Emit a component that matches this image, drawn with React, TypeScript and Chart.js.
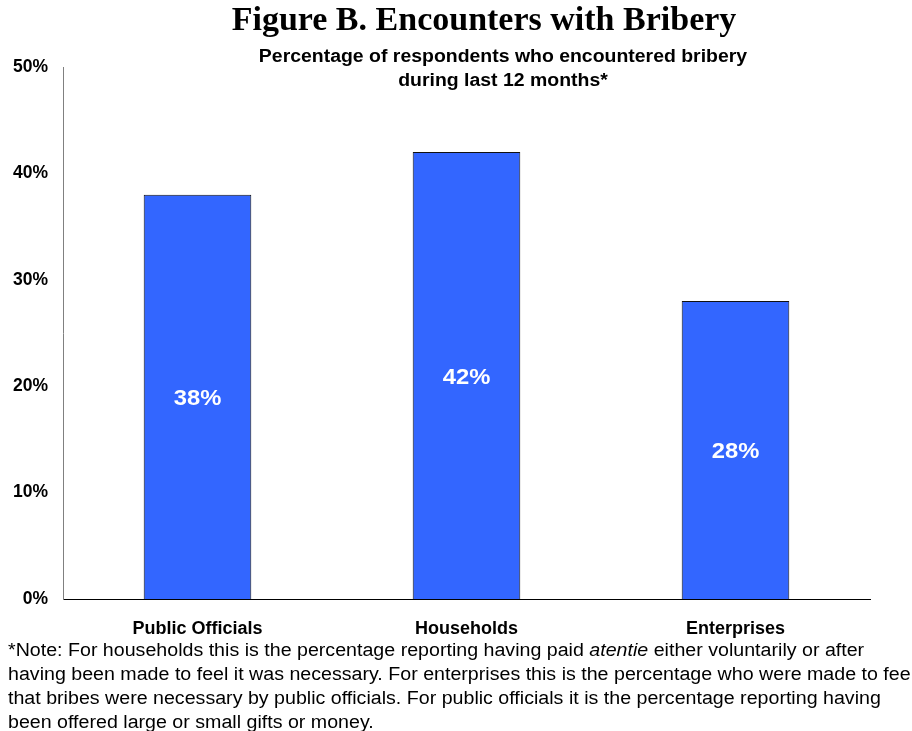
import React, { useEffect, useRef } from "react";
import { Chart, registerables } from "chart.js";

Chart.register(...registerables);

const categories = ["Public Officials", "Households", "Enterprises"];
const values = [38, 42, 28];
const yTicks = [0, 10, 20, 30, 40, 50];
const titleText = "Figure B. Encounters with Bribery";
const subtitleLines = ["Percentage of respondents who encountered bribery", "during last 12 months*"];
const noteLines: { text: string; italic?: boolean }[][] = [
  [
    { text: "*Note: For households this is the percentage reporting having paid " },
    { text: "atentie", italic: true },
    { text: " either voluntarily or after" },
  ],
  [{ text: "having been made to feel it was necessary. For enterprises this is the percentage who were made to feel" }],
  [{ text: "that bribes were necessary by public officials. For public officials it is the percentage reporting having" }],
  [{ text: "been offered large or small gifts or money." }],
];

const SANS = "'Liberation Sans', Arial, sans-serif";
const SERIF = "'Liberation Serif', 'Times New Roman', serif";

function stretchText(ctx: CanvasRenderingContext2D, text: string, x: number, y: number, sx: number) {
  ctx.save();
  ctx.translate(x, y);
  ctx.scale(sx, 1);
  ctx.fillText(text, 0, 0);
  ctx.restore();
}

const textPlugin = {
  id: "textPlugin",
  afterDraw(chart: any) {
    const ctx = chart.ctx as CanvasRenderingContext2D;
    ctx.save();
    ctx.fillStyle = "#000";
    ctx.textAlign = "center";
    ctx.textBaseline = "middle";
    ctx.font = `bold 34px ${SERIF}`;
    ctx.fillText(titleText, 484, 21);
    ctx.font = `bold 18px ${SANS}`;
    subtitleLines.forEach((l, i) => stretchText(ctx, l, 503, 57 + i * 24, 1.08));
    // value labels
    const meta = chart.getDatasetMeta(0);
    ctx.fillStyle = "#fff";
    ctx.font = `bold 22px ${SANS}`;
    meta.data.forEach((bar: any, i: number) => {
      const mid = (bar.y + bar.base) / 2;
      stretchText(ctx, values[i] + "%", bar.x, mid + 2, 1.08);
    });
    // note
    ctx.fillStyle = "#000";
    ctx.textAlign = "left";
    const sx = 1.09;
    noteLines.forEach((segs, i) => {
      let x = 8;
      const y = 651 + i * 24;
      segs.forEach((s) => {
        ctx.font = `${s.italic ? "italic " : ""}18px ${SANS}`;
        stretchText(ctx, s.text, x, y, sx);
        x += ctx.measureText(s.text).width * sx;
      });
    });
    ctx.restore();
  },
};

export default function App() {
  const ref = useRef<HTMLCanvasElement>(null);
  useEffect(() => {
    if (!ref.current) return;
    const chart = new Chart(ref.current, {
      type: "bar",
      data: {
        labels: categories,
        datasets: [
          {
            data: values,
            backgroundColor: "#3366FF",
            borderColor: "#111111",
            borderWidth: 1,
            categoryPercentage: 1,
            barPercentage: 0.4,
          },
        ],
      },
      options: {
        animation: false,
        responsive: false,
        events: [],
        layout: { padding: { left: 0, right: 42, top: 67, bottom: 0 } },
        plugins: { legend: { display: false }, tooltip: { enabled: false }, title: { display: false } },
        scales: {
          x: {
            grid: { display: false, drawTicks: false },
            border: { display: true, color: "#000", width: 1 },
            ticks: { color: "#000", font: { family: SANS, size: 18, weight: "bold" }, padding: 19 },
            afterFit: (s: any) => {
              s.height = 132;
            },
          },
          y: {
            min: 0,
            max: 50,
            afterBuildTicks: (s: any) => {
              s.ticks = yTicks.map((v) => ({ value: v }));
            },
            grid: { display: false, drawTicks: false },
            border: { display: true, color: "#808080", width: 1 },
            ticks: {
              color: "#000",
              font: { family: SANS, size: 17.5, weight: "bold" },
              padding: 15,
              callback: (v: any) => v + "%",
            },
            afterFit: (s: any) => {
              s.width = 63;
            },
          },
        },
      },
      plugins: [textPlugin],
    });
    return () => chart.destroy();
  }, []);
  return (
    <div style={{ position: "fixed", left: 0, top: 0, width: 912, height: 731, background: "#fff" }}>
      <canvas ref={ref} width={912} height={731} style={{ display: "block" }} />
    </div>
  );
}
